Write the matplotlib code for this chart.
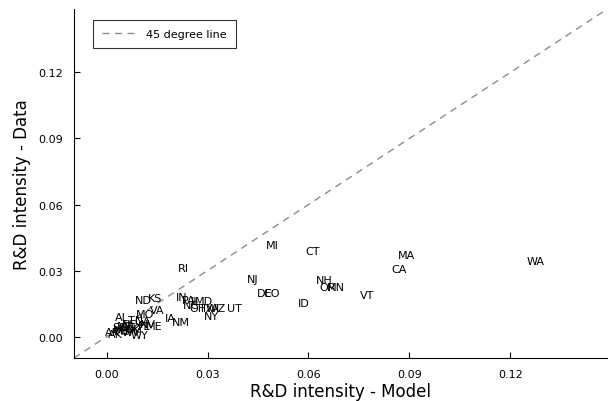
import matplotlib
matplotlib.use("Agg")
import matplotlib.pyplot as plt
import numpy as np

states = ["WA","MA","CA","VT","CT","MI","NH","OR","MN","ID","NJ","DE","CO","RI",
          "IN","PA","IL","MD","NC","OH","TX","WI","AZ","UT","NY","IA","NM","ND","KS",
          "VA","MO","AL","TN","GA","NE","FL","ME","SC","KY","AR","AK","MS","LA","OK",
          "SD","MT","NV","HI","WV","WY"]
model = [0.1274,0.0891,0.0870,0.0775,0.0612,0.0493,0.0647,0.0656,0.0680,0.0585,0.0434,0.0469,0.0490,0.0229,
         0.0223,0.0244,0.0266,0.0288,0.0252,0.0270,0.0295,0.0316,0.0333,0.0380,0.0312,0.0190,0.0220,0.0110,0.0143,
         0.0149,0.0113,0.0045,0.0086,0.0107,0.0068,0.0113,0.0140,0.0062,0.0092,0.0018,0.0027,0.0045,0.0060,0.0078,
         0.0039,0.0054,0.0122,0.0036,0.0072,0.0098]
data = [0.0345,0.0373,0.0305,0.0191,0.0391,0.0414,0.0255,0.0227,0.0227,0.0155,0.0264,0.0200,0.0200,0.0314,
        0.0182,0.0168,0.0164,0.0164,0.0145,0.0132,0.0130,0.0128,0.0130,0.0132,0.0095,0.0086,0.0068,0.0168,0.0177,
        0.0123,0.0105,0.0091,0.0077,0.0073,0.0059,0.0050,0.0050,0.0045,0.0041,0.0023,0.0014,0.0027,0.0032,0.0036,
        0.0045,0.0050,0.0059,0.0036,0.0023,0.0009]

xticks = [0.00, 0.03, 0.06, 0.09, 0.12]
yticks = [0.00, 0.03, 0.06, 0.09, 0.12]
lims = (-0.0097, 0.1488)

fig = plt.figure(figsize=(6.08, 4.02), dpi=100)
ax = fig.add_axes([0.1217, 0.107, 0.877, 0.868])

ax.plot(lims, lims, linestyle=(0, (5, 4)), color="#8c8c8c", linewidth=1.0, label="45 degree line")
for s, xv, yv in zip(states, model, data):
    ax.text(xv, yv, s, fontsize=8, ha="center", va="center", color="black")

ax.set_xlim(lims)
ax.set_ylim(lims)
ax.set_xticks(xticks)
ax.set_yticks(yticks)
ax.set_xticklabels([f"{t:.2f}" for t in xticks])
ax.set_yticklabels([f"{t:.2f}" for t in yticks])
ax.tick_params(direction="in", length=4, width=0.8, labelsize=8, pad=8)
for sp in ["top", "right"]:
    ax.spines[sp].set_visible(False)
for sp in ["left", "bottom"]:
    ax.spines[sp].set_linewidth(0.8)

ax.set_xlabel("R&D intensity - Model", fontsize=12, labelpad=2)
ax.set_ylabel("R&D intensity - Data", fontsize=12, labelpad=5)

leg = ax.legend(loc="upper left", fontsize=8, frameon=True, fancybox=False,
                edgecolor="black", borderpad=0.8, handlelength=3.2,
                bbox_to_anchor=(0.025, 0.985))
leg.get_frame().set_linewidth(0.8)

fig.savefig("out.png", dpi=100)
